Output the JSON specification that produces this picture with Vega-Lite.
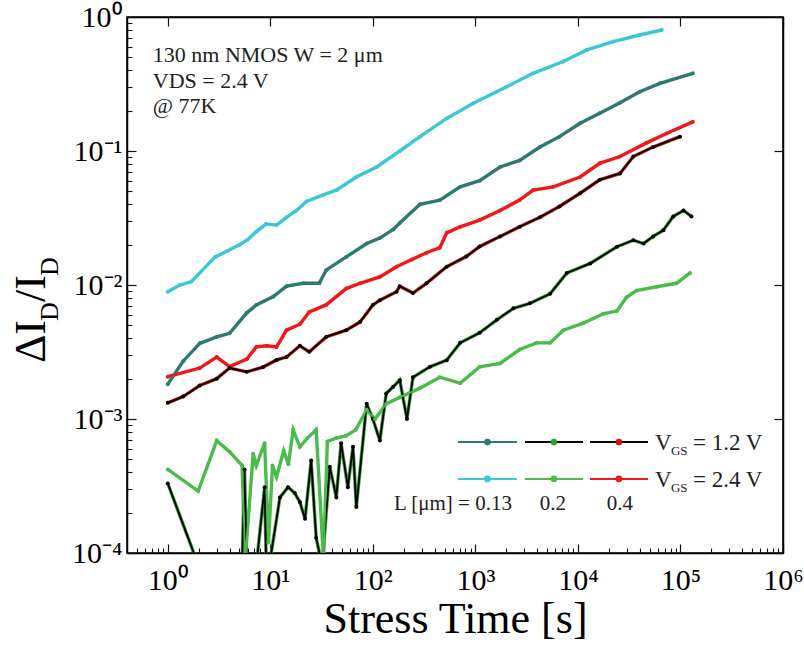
{
  "$schema": "https://vega.github.io/schema/vega-lite/v6.json",
  "width": 656,
  "height": 536,
  "autosize": {"type": "none"},
  "padding": {"left": 127, "top": 17, "right": 21, "bottom": 97},
  "background": "white",
  "config": {"view": {"stroke": "black", "strokeWidth": 1.5}, "font": "Liberation Serif"},
  "datasets": {
    "series": [
      {"s":"c","t":1,"v":0.0089},{"s":"c","t":1.31,"v":0.0100},{"s":"c","t":1.7,"v":0.0106},{"s":"c","t":2.9,"v":0.0162},{"s":"c","t":3.85,"v":0.018},{"s":"c","t":5,"v":0.020},{"s":"c","t":6,"v":0.0218},{"s":"c","t":7.3,"v":0.025},{"s":"c","t":9.1,"v":0.0285},{"s":"c","t":11.5,"v":0.028},{"s":"c","t":14.4,"v":0.032},{"s":"c","t":18,"v":0.036},{"s":"c","t":22.5,"v":0.042},{"s":"c","t":32.7,"v":0.047},{"s":"c","t":44,"v":0.051},{"s":"c","t":69,"v":0.064},{"s":"c","t":109,"v":0.076},{"s":"c","t":183,"v":0.100},{"s":"c","t":288,"v":0.128},{"s":"c","t":525,"v":0.175},{"s":"c","t":955,"v":0.227},{"s":"c","t":2000,"v":0.30},{"s":"c","t":3650,"v":0.38},{"s":"c","t":7200,"v":0.465},{"s":"c","t":12200,"v":0.568},{"s":"c","t":22100,"v":0.655},{"s":"c","t":40000,"v":0.734},{"s":"c","t":65800,"v":0.80},
      {"s":"t","t":1,"v":0.00182},{"s":"t","t":1.41,"v":0.0027},{"s":"t","t":2.05,"v":0.00367},{"s":"t","t":3,"v":0.0041},{"s":"t","t":4,"v":0.00436},{"s":"t","t":5.9,"v":0.0062},{"s":"t","t":7.3,"v":0.0071},{"s":"t","t":10.7,"v":0.0082},{"s":"t","t":14.4,"v":0.0098},{"s":"t","t":21,"v":0.0103},{"s":"t","t":30,"v":0.0103},{"s":"t","t":35,"v":0.0129},{"s":"t","t":55,"v":0.0162},{"s":"t","t":87,"v":0.0204},{"s":"t","t":117,"v":0.0224},{"s":"t","t":158,"v":0.026},{"s":"t","t":183,"v":0.029},{"s":"t","t":288,"v":0.040},{"s":"t","t":450,"v":0.043},{"s":"t","t":710,"v":0.054},{"s":"t","t":1100,"v":0.060},{"s":"t","t":1740,"v":0.076},{"s":"t","t":2700,"v":0.085},{"s":"t","t":4260,"v":0.107},{"s":"t","t":6600,"v":0.128},{"s":"t","t":10500,"v":0.161},{"s":"t","t":16300,"v":0.191},{"s":"t","t":25700,"v":0.229},{"s":"t","t":40000,"v":0.277},{"s":"t","t":63000,"v":0.32},{"s":"t","t":132000,"v":0.38},
      {"s":"r","t":1,"v":0.00207},{"s":"r","t":2.05,"v":0.0024},{"s":"r","t":3,"v":0.0029},{"s":"r","t":4,"v":0.00246},{"s":"r","t":5.9,"v":0.0028},{"s":"r","t":7.3,"v":0.00345},{"s":"r","t":9.2,"v":0.00352},{"s":"r","t":11.5,"v":0.00345},{"s":"r","t":14.4,"v":0.0046},{"s":"r","t":19.4,"v":0.0051},{"s":"r","t":24,"v":0.0063},{"s":"r","t":35,"v":0.0071},{"s":"r","t":55,"v":0.0094},{"s":"r","t":75,"v":0.0103},{"s":"r","t":117,"v":0.0115},{"s":"r","t":170,"v":0.0137},{"s":"r","t":240,"v":0.0155},{"s":"r","t":333,"v":0.0174},{"s":"r","t":450,"v":0.0190},{"s":"r","t":525,"v":0.0245},{"s":"r","t":710,"v":0.0272},{"s":"r","t":1100,"v":0.0305},{"s":"r","t":1740,"v":0.036},{"s":"r","t":2700,"v":0.043},{"s":"r","t":3650,"v":0.051},{"s":"r","t":5750,"v":0.054},{"s":"r","t":10500,"v":0.064},{"s":"r","t":16300,"v":0.081},{"s":"r","t":25700,"v":0.091},{"s":"r","t":46700,"v":0.115},{"s":"r","t":73000,"v":0.135},{"s":"r","t":132000,"v":0.165},
      {"s":"k","t":1,"v":0.00132},{"s":"k","t":1.41,"v":0.00147},{"s":"k","t":2.05,"v":0.00178},{"s":"k","t":3,"v":0.0020},{"s":"k","t":4,"v":0.0024},{"s":"k","t":5.9,"v":0.00225},{"s":"k","t":8.5,"v":0.00244},{"s":"k","t":11.5,"v":0.00276},{"s":"k","t":14.4,"v":0.0029},{"s":"k","t":19.4,"v":0.00352},{"s":"k","t":24,"v":0.00317},{"s":"k","t":35,"v":0.0041},{"s":"k","t":55,"v":0.0046},{"s":"k","t":75,"v":0.0053},{"s":"k","t":100,"v":0.0071},{"s":"k","t":117,"v":0.0077},{"s":"k","t":170,"v":0.0089},{"s":"k","t":183,"v":0.0098},{"s":"k","t":246,"v":0.0087},{"s":"k","t":333,"v":0.0103},{"s":"k","t":525,"v":0.0137},{"s":"k","t":815,"v":0.0163},{"s":"k","t":1100,"v":0.0194},{"s":"k","t":1740,"v":0.023},{"s":"k","t":2700,"v":0.0272},{"s":"k","t":4260,"v":0.032},{"s":"k","t":6600,"v":0.0385},{"s":"k","t":10500,"v":0.0484},{"s":"k","t":16300,"v":0.061},{"s":"k","t":25700,"v":0.068},{"s":"k","t":34700,"v":0.091},{"s":"k","t":54000,"v":0.107},{"s":"k","t":99000,"v":0.128},
      {"s":"d","t":1,"v":0.00033},{"s":"d","t":2,"v":0.00008},{"s":"d","t":3,"v":0.00005},{"s":"d","t":4,"v":0.00005},{"s":"d","t":5.3,"v":0.00008},{"s":"d","t":5.6,"v":0.00042},{"s":"d","t":5.9,"v":0.00007},{"s":"d","t":7,"v":0.00006},{"s":"d","t":8.8,"v":0.00031},{"s":"d","t":9.2,"v":0.00006},{"s":"d","t":12.4,"v":0.00026},{"s":"d","t":14.9,"v":0.00031},{"s":"d","t":17.3,"v":0.00028},{"s":"d","t":19.4,"v":0.00024},{"s":"d","t":21.8,"v":0.00018},{"s":"d","t":25,"v":0.00049},{"s":"d","t":28,"v":0.00013},{"s":"d","t":32,"v":0.00008},{"s":"d","t":38,"v":0.00044},{"s":"d","t":44,"v":0.00026},{"s":"d","t":49,"v":0.00066},{"s":"d","t":57,"v":0.00031},{"s":"d","t":64,"v":0.00062},{"s":"d","t":69,"v":0.00022},{"s":"d","t":87,"v":0.0013},{"s":"d","t":100,"v":0.0010},{"s":"d","t":117,"v":0.00069},{"s":"d","t":135,"v":0.00155},{"s":"d","t":158,"v":0.00174},{"s":"d","t":183,"v":0.00195},{"s":"d","t":215,"v":0.0010},{"s":"d","t":246,"v":0.00205},{"s":"d","t":360,"v":0.00245},{"s":"d","t":525,"v":0.00275},{"s":"d","t":710,"v":0.0037},{"s":"d","t":1100,"v":0.0044},{"s":"d","t":1620,"v":0.0055},{"s":"d","t":2350,"v":0.0067},{"s":"d","t":3400,"v":0.0073},{"s":"d","t":5350,"v":0.0086},{"s":"d","t":7800,"v":0.0123},{"s":"d","t":13200,"v":0.0145},{"s":"d","t":24000,"v":0.0193},{"s":"d","t":34700,"v":0.0216},{"s":"d","t":43600,"v":0.0204},{"s":"d","t":54000,"v":0.023},{"s":"d","t":68000,"v":0.0256},{"s":"d","t":85000,"v":0.0325},{"s":"d","t":107000,"v":0.036},{"s":"d","t":128000,"v":0.0325},
      {"s":"g","t":1,"v":0.00042},{"s":"g","t":1.98,"v":0.00029},{"s":"g","t":3,"v":0.00069},{"s":"g","t":4,"v":0.00057},{"s":"g","t":5.3,"v":0.00045},{"s":"g","t":5.7,"v":0.00009},{"s":"g","t":6.8,"v":0.00055},{"s":"g","t":7.3,"v":0.00045},{"s":"g","t":8.8,"v":0.00066},{"s":"g","t":9.6,"v":0.00012},{"s":"g","t":10.5,"v":0.00045},{"s":"g","t":11.5,"v":0.00037},{"s":"g","t":13.5,"v":0.00058},{"s":"g","t":15,"v":0.00046},{"s":"g","t":16.7,"v":0.00083},{"s":"g","t":19.4,"v":0.00062},{"s":"g","t":23,"v":0.00072},{"s":"g","t":28,"v":0.00083},{"s":"g","t":33,"v":0.00009},{"s":"g","t":36,"v":0.00068},{"s":"g","t":44,"v":0.00072},{"s":"g","t":55,"v":0.00075},{"s":"g","t":68,"v":0.00083},{"s":"g","t":87,"v":0.00117},{"s":"g","t":105,"v":0.0010},{"s":"g","t":135,"v":0.0013},{"s":"g","t":183,"v":0.00145},{"s":"g","t":288,"v":0.0017},{"s":"g","t":450,"v":0.00205},{"s":"g","t":710,"v":0.00185},{"s":"g","t":1100,"v":0.00245},{"s":"g","t":1740,"v":0.0026},{"s":"g","t":2700,"v":0.0033},{"s":"g","t":3950,"v":0.0037},{"s":"g","t":5350,"v":0.0037},{"s":"g","t":7200,"v":0.0046},{"s":"g","t":11300,"v":0.0052},{"s":"g","t":17700,"v":0.0061},{"s":"g","t":24000,"v":0.0064},{"s":"g","t":29800,"v":0.0081},{"s":"g","t":37300,"v":0.0091},{"s":"g","t":58500,"v":0.0097},{"s":"g","t":91600,"v":0.0103},{"s":"g","t":124000,"v":0.0123}
    ],
    "legendLines": [
      {"s":"t","x1":676,"x2":2540,"xm":1310,"y":0.000673},
      {"s":"d","x1":3040,"x2":11200,"xm":5830,"y":0.000673},
      {"s":"k","x1":13100,"x2":48200,"xm":25100,"y":0.000673},
      {"s":"c","x1":676,"x2":2540,"xm":1310,"y":0.000357},
      {"s":"g","x1":3040,"x2":11200,"xm":5830,"y":0.000357},
      {"s":"r","x1":13100,"x2":48200,"xm":25100,"y":0.000357}
    ],
    "notes": [
      {"kind":"ann","x":0.714,"y":0.461,"txt":"130 nm NMOS W = 2 μm"},
      {"kind":"ann","x":0.714,"y":0.295,"txt":"VDS = 2.4 V"},
      {"kind":"ann","x":0.714,"y":0.192,"txt":"@ 77K"},
      {"kind":"leg","x":56400,"y":0.000587,"txt":"V"},
      {"kind":"leg","x":132400,"y":0.000587,"txt":"= 1.2 V"},
      {"kind":"leg","x":56400,"y":0.000313,"txt":"V"},
      {"kind":"leg","x":132400,"y":0.000313,"txt":"= 2.4 V"},
      {"kind":"legsub","x":80800,"y":0.000538,"txt":"GS"},
      {"kind":"legsub","x":80800,"y":0.000285,"txt":"GS"},
      {"kind":"lblr","x":2270,"y":0.000209,"txt":"L [μm] = 0.13"},
      {"kind":"lblc","x":5700,"y":0.000209,"txt":"0.2"},
      {"kind":"lblc","x":25700,"y":0.000209,"txt":"0.4"},
      {"kind":"ybig","x":0.063,"y":0.00262,"txt":"ΔI"},
      {"kind":"ybig","x":0.063,"y":0.00746,"txt":"/I"},
      {"kind":"ysub","x":0.0845,"y":0.00538,"txt":"D"},
      {"kind":"ysub","x":0.0845,"y":0.01167,"txt":"D"}
    ]
  },
  "layer": [
    {
      "data": {"name": "series"},
      "mark": {"type": "line", "strokeWidth": 3.4, "clip": true},
      "encoding": {
        "x": {"field": "t", "type": "quantitative",
          "scale": {"type": "log", "domain": [0.4, 1000000], "nice": false},
          "axis": {"orient": "bottom", "grid": false, "ticks": false, "tickSize": 0,
            "values": [1,10,100,1000,10000,100000,1000000],
            "labelExpr": "'10' + replace(replace(replace(replace(replace(replace(replace(replace(replace('' + round(log(datum.value)/LN10), '-', '⁻'), '0', '⁰'), '1', '¹'), '2', '²'), '3', '³'), '4', '⁴'), '5', '⁵'), '6', '⁶'), '7', '⁷')",
            "domainColor": "black", "domainWidth": 1.5,
            "labelFont": "Liberation Serif", "labelFontSize": 30, "labelColor": "black", "labelPadding": 12,
            "labelFlush": false, "labelOverlap": false,
            "title": "Stress Time [s]", "titleFont": "Liberation Serif", "titleFontSize": 44, "titleFontWeight": "normal", "titleColor": "black", "titleY": 79, "titleBaseline": "alphabetic"}
        },
        "y": {"field": "v", "type": "quantitative",
          "scale": {"type": "log", "domain": [0.0001, 1], "nice": false},
          "axis": {"orient": "left", "grid": false, "ticks": false, "tickSize": 0,
            "values": [0.0001,0.001,0.01,0.1,1],
            "labelExpr": "'10' + replace(replace(replace(replace(replace(replace(replace(replace(replace('' + round(log(datum.value)/LN10), '-', '⁻'), '0', '⁰'), '1', '¹'), '2', '²'), '3', '³'), '4', '⁴'), '5', '⁵'), '6', '⁶'), '7', '⁷')",
            "domainColor": "black", "domainWidth": 1.5,
            "labelFont": "Liberation Serif", "labelFontSize": 30, "labelColor": "black", "labelPadding": 5,
            "labelFlush": false, "labelOverlap": false, "title": null}
        },
        "stroke": {"field": "s", "type": "nominal", "legend": null,
          "scale": {"domain": ["t","d","k","c","g","r"], "range": ["#2e7a70","#3a9a3a","#c81818","#3cc8d2","#4cbb4c","#f01818"]}},
        "order": {"field": "t", "type": "quantitative"}
      }
    },
    {
      "data": {"name": "series"},
      "mark": {"type": "line", "strokeWidth": 1.8, "clip": true},
      "encoding": {
        "x": {"field": "t", "type": "quantitative", "scale": {"type": "log", "domain": [0.4, 1000000], "nice": false},
          "axis": {"orient": "top", "offset": -536, "grid": false, "labels": false, "title": null, "domain": false,
            "values": [1,10,100,1000,10000,100000,1000000], "tickSize": 9, "tickColor": "#111111", "tickWidth": 1.2}},
        "y": {"field": "v", "type": "quantitative", "scale": {"type": "log", "domain": [0.0001, 1], "nice": false},
          "axis": {"orient": "right", "offset": -656, "grid": false, "labels": false, "title": null, "domain": false,
            "values": [0.0001,0.001,0.01,0.1,1], "tickSize": 9, "tickColor": "#111111", "tickWidth": 1.2}},
        "color": {"field": "s", "type": "nominal", "legend": null,
          "scale": {"domain": ["t","d","k","c","g","r"], "range": ["#2e7a70","#000000","#000000","#3cc8d2","#4cbb4c","#f01818"]}},
        "order": {"field": "t", "type": "quantitative"}
      }
    },
    {
      "data": {"name": "series"},
      "mark": {"type": "point", "filled": true, "size": 16, "opacity": 1, "clip": true},
      "encoding": {
        "x": {"field": "t", "type": "quantitative", "scale": {"type": "log", "domain": [0.4, 1000000], "nice": false},
          "axis": {"orient": "top", "offset": -536, "grid": false, "labels": false, "title": null, "domain": false,
            "values": [0.5,0.6,0.7,0.8,0.9,2,3,4,5,6,7,8,9,20,30,40,50,60,70,80,90,200,300,400,500,600,700,800,900,2000,3000,4000,5000,6000,7000,8000,9000,20000,30000,40000,50000,60000,70000,80000,90000,200000,300000,400000,500000,600000,700000,800000,900000],
            "tickSize": 5, "tickColor": "#111111", "tickWidth": 1.1}},
        "y": {"field": "v", "type": "quantitative", "scale": {"type": "log", "domain": [0.0001, 1], "nice": false},
          "axis": {"orient": "right", "offset": -656, "grid": false, "labels": false, "title": null, "domain": false,
            "values": [0.0002,0.0003,0.0004,0.0005,0.0006,0.0007,0.0008,0.0009,0.002,0.003,0.004,0.005,0.006,0.007,0.008,0.009,0.02,0.03,0.04,0.05,0.06,0.07,0.08,0.09,0.2,0.3,0.4,0.5,0.6,0.7,0.8,0.9],
            "tickSize": 5, "tickColor": "#111111", "tickWidth": 1.1}},
        "fill": {"field": "s", "type": "nominal", "legend": null,
          "scale": {"domain": ["t","d","k","c","g","r"], "range": ["#2e7a70","#000000","#000000","#3cc8d2","#4cbb4c","#f01818"]}}
      }
    },
    {
      "data": {"name": "legendLines"},
      "mark": {"type": "rule", "strokeWidth": 2},
      "encoding": {
        "x": {"field": "x1", "type": "quantitative", "scale": {"type": "log", "domain": [0.4, 1000000], "nice": false},
          "axis": {"orient": "bottom", "offset": -536, "grid": false, "labels": false, "title": null, "domain": true, "domainColor": "black", "domainWidth": 1.5,
            "values": [1,10,100,1000,10000,100000,1000000], "tickSize": 9, "tickColor": "#111111", "tickWidth": 1.2}},
        "x2": {"field": "x2"},
        "y": {"field": "y", "type": "quantitative", "scale": {"type": "log", "domain": [0.0001, 1], "nice": false},
          "axis": {"orient": "left", "offset": -656, "grid": false, "labels": false, "title": null, "domain": true, "domainColor": "black", "domainWidth": 1.5,
            "values": [0.0001,0.001,0.01,0.1,1], "tickSize": 9, "tickColor": "#111111", "tickWidth": 1.2}},
        "color": {"field": "s", "type": "nominal", "legend": null,
          "scale": {"domain": ["t","d","k","c","g","r"], "range": ["#2e7a70","#000000","#000000","#3cc8d2","#4cbb4c","#f01818"]}}
      }
    },
    {
      "data": {"name": "legendLines"},
      "mark": {"type": "point", "filled": false, "size": 10, "strokeWidth": 3.5, "opacity": 1},
      "encoding": {
        "x": {"field": "xm", "type": "quantitative", "scale": {"type": "log", "domain": [0.4, 1000000], "nice": false}, "axis": null},
        "y": {"field": "y", "type": "quantitative", "scale": {"type": "log", "domain": [0.0001, 1], "nice": false}, "axis": null},
        "stroke": {"field": "s", "type": "nominal", "legend": null,
          "scale": {"domain": ["t","d","k","c","g","r"], "range": ["#2e7a70","#3a9a3a","#c81818","#3cc8d2","#4cbb4c","#f01818"]}}
      }
    },
    {
      "data": {"name": "notes"},
      "transform": [{"filter": "datum.kind == 'ann'"}],
      "mark": {"type": "text", "align": "left", "baseline": "alphabetic", "font": "Liberation Serif", "fontSize": 22, "color": "#222222"},
      "encoding": {
        "x": {"field": "x", "type": "quantitative", "scale": {"type": "log", "domain": [0.4, 1000000], "nice": false}, "axis": null},
        "y": {"field": "y", "type": "quantitative", "scale": {"type": "log", "domain": [0.0001, 1], "nice": false}, "axis": null},
        "text": {"field": "txt"}
      }
    },
    {
      "data": {"name": "notes"},
      "transform": [{"filter": "datum.kind == 'leg'"}],
      "mark": {"type": "text", "align": "left", "baseline": "alphabetic", "font": "Liberation Serif", "fontSize": 23, "color": "#222222"},
      "encoding": {
        "x": {"field": "x", "type": "quantitative", "scale": {"type": "log", "domain": [0.4, 1000000], "nice": false}, "axis": null},
        "y": {"field": "y", "type": "quantitative", "scale": {"type": "log", "domain": [0.0001, 1], "nice": false}, "axis": null},
        "text": {"field": "txt"}
      }
    },
    {
      "data": {"name": "notes"},
      "transform": [{"filter": "datum.kind == 'legsub'"}],
      "mark": {"type": "text", "align": "left", "baseline": "alphabetic", "font": "Liberation Serif", "fontSize": 13, "color": "#222222"},
      "encoding": {
        "x": {"field": "x", "type": "quantitative", "scale": {"type": "log", "domain": [0.4, 1000000], "nice": false}, "axis": null},
        "y": {"field": "y", "type": "quantitative", "scale": {"type": "log", "domain": [0.0001, 1], "nice": false}, "axis": null},
        "text": {"field": "txt"}
      }
    },
    {
      "data": {"name": "notes"},
      "transform": [{"filter": "datum.kind == 'lblr'"}],
      "mark": {"type": "text", "align": "right", "baseline": "alphabetic", "font": "Liberation Serif", "fontSize": 21, "color": "#222222"},
      "encoding": {
        "x": {"field": "x", "type": "quantitative", "scale": {"type": "log", "domain": [0.4, 1000000], "nice": false}, "axis": null},
        "y": {"field": "y", "type": "quantitative", "scale": {"type": "log", "domain": [0.0001, 1], "nice": false}, "axis": null},
        "text": {"field": "txt"}
      }
    },
    {
      "data": {"name": "notes"},
      "transform": [{"filter": "datum.kind == 'lblc'"}],
      "mark": {"type": "text", "align": "center", "baseline": "alphabetic", "font": "Liberation Serif", "fontSize": 21, "color": "#222222"},
      "encoding": {
        "x": {"field": "x", "type": "quantitative", "scale": {"type": "log", "domain": [0.4, 1000000], "nice": false}, "axis": null},
        "y": {"field": "y", "type": "quantitative", "scale": {"type": "log", "domain": [0.0001, 1], "nice": false}, "axis": null},
        "text": {"field": "txt"}
      }
    },
    {
      "data": {"name": "notes"},
      "transform": [{"filter": "datum.kind == 'ybig'"}],
      "mark": {"type": "text", "align": "left", "baseline": "alphabetic", "angle": 270, "font": "Liberation Serif", "fontSize": 44, "color": "black"},
      "encoding": {
        "x": {"field": "x", "type": "quantitative", "scale": {"type": "log", "domain": [0.4, 1000000], "nice": false}, "axis": null},
        "y": {"field": "y", "type": "quantitative", "scale": {"type": "log", "domain": [0.0001, 1], "nice": false}, "axis": null},
        "text": {"field": "txt"}
      }
    },
    {
      "data": {"name": "notes"},
      "transform": [{"filter": "datum.kind == 'ysub'"}],
      "mark": {"type": "text", "align": "left", "baseline": "alphabetic", "angle": 270, "font": "Liberation Serif", "fontSize": 26, "color": "black"},
      "encoding": {
        "x": {"field": "x", "type": "quantitative", "scale": {"type": "log", "domain": [0.4, 1000000], "nice": false}, "axis": null},
        "y": {"field": "y", "type": "quantitative", "scale": {"type": "log", "domain": [0.0001, 1], "nice": false}, "axis": null},
        "text": {"field": "txt"}
      }
    }
  ],
  "resolve": {"axis": {"x": "independent", "y": "independent"}}
}
